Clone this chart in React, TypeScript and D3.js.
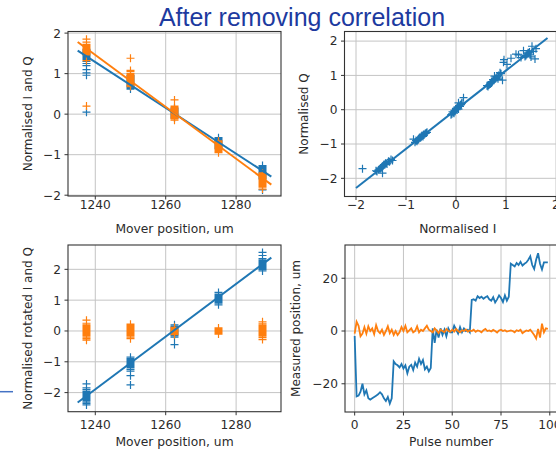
import React from 'react';
import * as d3 from 'd3';

// mover positions (um), 20 pulses per position
const moverPos = [1237.5, 1250, 1262.5, 1275, 1287.5];

// normalised I and Q per pulse, grouped by mover position
const normI = [
  [0.05, 1.42, 1.55, 1.38, 1.48, 1.6, 1.3, 1.45, 1.2, 1.52, 1.1, 1.4, 1.35, 0.96, 1.5, 1.25, 1.44, 1.58, 1.02, 1.47],
  [0.72, 0.68, 0.85, 0.78, 0.62, 0.9, 0.75, 0.7, 0.82, 0.95, 0.66, 0.74, 0.8, 0.88, 0.64, 0.93, 0.71, 0.77, 0.84, 0.69],
  [-0.05, 0.02, 0.1, -0.08, 0.05, 0.12, -0.02, 0.0, 0.08, -0.1, 0.15, 0.03, -0.04, 0.06, 0.11, -0.07, 0.01, 0.09, -0.03, 0.04],
  [-0.7, -0.65, -0.75, -0.6, -0.8, -0.68, -0.72, -0.58, -0.85, -0.66, -0.74, -0.62, -0.78, -0.7, -0.64, -0.76, -0.69, -0.82, -0.67, -0.73],
  [-1.45, -1.4, -1.5, -1.35, -1.55, -1.42, -1.48, -1.3, -1.6, -1.38, -1.46, -1.52, -1.87, -1.44, -1.33, -1.58, -1.41, -1.49, -1.27, -1.47],
];
const normQ = [
  [0.2, 1.62, 1.7, 1.55, 1.6, 1.78, 1.52, 1.65, 1.62, 1.85, 1.5, 1.58, 1.72, 1.46, 1.54, 1.6, 1.66, 1.48, 1.32, 1.68],
  [0.8, 0.75, 1.0, 0.9, 0.7, 1.05, 0.85, 0.78, 0.95, 1.38, 0.72, 0.88, 0.92, 1.08, 0.68, 0.86, 0.82, 0.98, 0.9, 0.76],
  [-0.08, 0.05, 0.15, -0.12, 0.02, 0.2, -0.05, 0.0, 0.1, -0.15, 0.35, 0.08, -0.1, 0.12, 0.18, -0.06, 0.03, 0.14, -0.02, 0.06],
  [-0.8, -0.72, -0.85, -0.68, -0.9, -0.75, -0.82, -0.66, -0.86, -0.78, -0.84, -0.7, -0.92, -0.79, -0.74, -0.88, -0.77, -0.95, -0.76, -0.81],
  [-1.62, -1.55, -1.7, -1.5, -1.75, -1.6, -1.66, -1.45, -1.78, -1.58, -1.64, -1.72, -1.72, -1.6, -1.52, -1.8, -1.57, -1.68, -1.48, -1.85],
];

// straight-line fits
const fitX = [1235, 1290];
const fitI = [1.57, -1.54];
const fitQ = [1.78, -1.74];
const corrFitI = [-2.0, 1.83];
const corrFitQ = [-2.28, 2.09];
const rotFitY = [-2.32, 2.38];

// rotated I and Q per pulse, grouped by mover position
const rotI = [
  [-2.05, -2.1, -1.95, -2.2, -2.15, -1.9, -2.3, -2.0, -2.25, -1.72, -2.12, -2.08, -1.85, -2.35, -2.02, -2.18, -1.98, -2.4, -2.22, -2.06],
  [-1.0, -1.05, -0.9, -1.15, -1.1, -0.85, -1.2, -0.95, -1.3, -1.75, -1.08, -1.02, -0.92, -1.25, -0.98, -1.12, -1.45, -1.0, -1.18, -1.06],
  [0.05, -0.05, 0.1, -0.1, 0.0, 0.15, -0.15, 0.02, -0.2, 0.08, -0.44, 0.2, -0.02, 0.04, -0.08, 0.12, -0.12, 0.06, -0.04, 0.0],
  [1.05, 1.0, 1.1, 0.95, 1.15, 0.9, 1.2, 1.02, 0.85, 1.08, 1.12, 0.98, 1.25, 1.04, 0.92, 1.06, 1.18, 0.96, 1.0, 1.1],
  [2.15, 2.1, 2.2, 2.05, 2.25, 2.0, 2.3, 2.12, 2.45, 2.08, 2.18, 2.55, 1.95, 2.22, 2.14, 2.35, 2.06, 2.28, 2.02, 2.16],
];
const rotQ = [
  [0.0, 0.1, -0.1, 0.2, -0.15, 0.05, -0.05, 0.35, -0.25, 0.15, -0.02, 0.08, -0.3, 0.25, -0.08, 0.12, -0.2, 0.02, 0.18, -0.12],
  [0.0, 0.05, -0.05, 0.1, -0.1, 0.15, -0.15, 0.22, -0.2, 0.02, -0.25, 0.08, -0.02, 0.12, -0.08, 0.04, -0.12, 0.06, -0.04, 0.18],
  [0.0, 0.05, -0.05, 0.1, -0.1, 0.02, -0.02, 0.08, -0.08, 0.04, -0.04, 0.12, -0.12, 0.06, -0.06, 0.03, -0.03, 0.09, -0.09, 0.01],
  [0.0, 0.04, -0.04, 0.08, -0.08, 0.02, -0.02, 0.06, -0.06, 0.1, -0.1, 0.03, -0.03, 0.05, -0.05, 0.07, -0.07, 0.01, -0.01, 0.09],
  [0.0, 0.1, -0.1, 0.2, -0.2, 0.05, -0.05, 0.3, -0.28, 0.15, -0.15, 0.25, -0.12, 0.08, -0.08, 0.18, -0.22, 0.02, 0.12, -0.02],
];

// measured position per pulse (um)
const measuredPos = [
  -1.9, -24.8, -24.5, -23.0, -20.0, -24.0, -22.5, -25.5, -26.0, -25.5,
  -25.0, -24.5, -24.0, -23.2, -24.0, -25.5, -26.5, -25.0, -27.5, -25.5,
  -11.5, -12.5, -13.0, -13.8, -12.5, -14.2, -13.0, -16.0, -13.5, -12.8,
  -14.8, -12.0, -13.5, -10.5, -12.5, -11.0, -14.5, -13.5, -15.3, -14.0,
  1.0, -4.5, 0.5, -2.5, 1.0, -1.5, 0.5, -2.0, 1.0, -0.5,
  -0.5, 2.0, 0.5, -1.0, 1.5, -0.5, 1.0, 0.0, 0.5, -0.5,
  11.8, 12.0, 11.5, 13.2, 12.5, 13.0, 12.2, 12.8, 13.2, 12.0,
  11.5, 12.8, 10.8, 12.0, 13.5, 12.5, 11.0, 13.5, 11.5, 13.0,
  25.5, 25.0, 24.5, 25.8, 25.0, 26.2, 24.8, 25.5, 26.0, 27.0,
  28.3, 25.0, 23.5, 27.0, 29.5, 25.5, 23.3, 26.0, 26.0, 26.0,
];
const measuredPerp = [
  -1.0, 3.5, 2.0, -2.0, -1.0, 1.5, -1.0, 1.8, 0.0, 1.0,
  -1.2, 2.2, 0.0, -0.8, 0.5, -1.5, 0.0, 1.8, -0.8, 0.5,
  -1.5, 0.0, -1.5, -0.5, 1.5, 0.0, 2.0, -0.5, 0.2, 1.0,
  -0.5, 0.0, 1.8, -0.5, 0.5, 0.0, 1.0, 2.0, 0.5, 0.0,
  -0.5, 1.0, 0.2, -0.8, 0.5, 0.0, -0.5, 0.8, 0.0, -0.3,
  0.5, -0.2, 0.8, 0.0, -0.5, 0.3, 0.0, 0.6, -0.2, 0.2,
  0.0, 0.5, -0.3, 0.2, 0.0, -0.5, 0.3, 0.8, 0.0, 0.2,
  -0.2, 0.4, 0.0, -0.6, 0.2, 0.5, 0.0, 0.3, -0.2, 0.0,
  0.2, 0.0, -0.5, 0.3, 0.0, 0.5, -0.8, -0.3, 0.2, 0.0,
  0.5, -0.5, -1.5, -2.8, 0.8, -2.5, 2.8, -0.5, 1.0, 0.8,
];

const moverTicks = [1240, 1260, 1280];
const unitTicks = [-2, -1, 0, 1, 2];
const pulseTicks = [0, 25, 50, 75, 100];
const posTicks = [-20, 0, 20];

const BLUE = '#1f77b4';
const ORANGE = '#ff7f0e';
const FONT = 'DejaVu Sans, sans-serif';
const INK = '#2b2b2b';

const fmt = (v: number) => (v < 0 ? '\u2212' + Math.abs(v) : String(v));

const plus = (cx: number, cy: number, r = 4) =>
  `M${cx - r},${cy}H${cx + r}M${cx},${cy - r}V${cy + r}`;

type PanelProps = {
  id: string;
  x: d3.ScaleLinear<number, number>;
  y: d3.ScaleLinear<number, number>;
  xTicks: number[];
  yTicks: number[];
  xLabel: string;
  yLabel: string;
  xLabelY: number;
  yLabelX: number;
  tickLabelY: number;
  children?: React.ReactNode;
};

function Panel({ id, x, y, xTicks, yTicks, xLabel, yLabel, xLabelY, yLabelX, tickLabelY, children }: PanelProps) {
  const [left, right] = x.range();
  const [bottom, top] = y.range();
  const midX = (left + right) / 2;
  const midY = (top + bottom) / 2;
  return (
    <g>
      <clipPath id={id}>
        <rect x={left} y={top} width={right - left} height={bottom - top} />
      </clipPath>
      {xTicks.map((t) => (
        <line key={'gx' + t} x1={x(t)} x2={x(t)} y1={top} y2={bottom} stroke="#c4c4c4" strokeWidth={1} />
      ))}
      {yTicks.map((t) => (
        <line key={'gy' + t} x1={left} x2={right} y1={y(t)} y2={y(t)} stroke="#c4c4c4" strokeWidth={1} />
      ))}
      <g clipPath={`url(#${id})`}>{children}</g>
      <rect x={left} y={top} width={right - left} height={bottom - top} fill="none" stroke="#333" strokeWidth={1.1} />
      {xTicks.map((t) => (
        <g key={'tx' + t}>
          <line x1={x(t)} x2={x(t)} y1={bottom} y2={bottom + 3.5} stroke="#333" />
          <text x={x(t)} y={tickLabelY} textAnchor="middle" fontSize={12.2} fill={INK} fontFamily={FONT}>
            {fmt(t)}
          </text>
        </g>
      ))}
      {yTicks.map((t) => (
        <g key={'ty' + t}>
          <line x1={left - 3.5} x2={left} y1={y(t)} y2={y(t)} stroke="#333" />
          <text x={left - 7} y={y(t)} dy="0.36em" textAnchor="end" fontSize={12.2} fill={INK} fontFamily={FONT}>
            {fmt(t)}
          </text>
        </g>
      ))}
      <text x={midX} y={xLabelY} textAnchor="middle" fontSize={12.3} fill={INK} fontFamily={FONT}>
        {xLabel}
      </text>
      <text
        transform={`translate(${yLabelX},${midY}) rotate(-90)`}
        dy="0.36em"
        textAnchor="middle"
        fontSize={12}
        fill={INK}
        fontFamily={FONT}
      >
        {yLabel}
      </text>
    </g>
  );
}

export default function App() {
  const width = 556;
  const height = 450;

  const xMoverTop = d3.scaleLinear().domain([1232.25, 1292.75]).range([68, 281]);
  const yIQ = d3.scaleLinear().domain([-2.02, 2.04]).range([196, 31.5]);

  const xCorr = d3.scaleLinear().domain([-2.23, 2.3]).range([344.5, 571]);
  const yCorr = d3.scaleLinear().domain([-2.53, 2.28]).range([196.5, 31.5]);

  const xMoverBot = d3.scaleLinear().domain([1232.25, 1292.75]).range([68, 281]);
  const yRot = d3.scaleLinear().domain([-2.62, 2.79]).range([411.7, 245]);

  const xPulse = d3.scaleLinear().domain([-4.95, 103.95]).range([345, 557.5]);
  const yPos = d3.scaleLinear().domain([-30.7, 32.6]).range([412, 245]);

  const fitLine = (xs: number[], ys: number[], sx: d3.ScaleLinear<number, number>, sy: d3.ScaleLinear<number, number>) =>
    d3
      .line<number>()
      .x((_, i) => sx(xs[i]))
      .y((d) => sy(d))(ys) || '';

  const scatter = (groups: number[][], sy: d3.ScaleLinear<number, number>, sx: d3.ScaleLinear<number, number>) =>
    groups
      .map((vals, gi) => vals.map((v) => plus(sx(moverPos[gi]), sy(v))).join(''))
      .join('');

  const corrPath = normI
    .map((vals, gi) => vals.map((v, j) => plus(xCorr(v), yCorr(normQ[gi][j]))).join(''))
    .join('');

  const pulseLine = d3
    .line<number>()
    .x((_, i) => xPulse(i))
    .y((d) => yPos(d));

  return (
    <svg width={width} height={height} style={{ position: 'absolute', left: 0, top: 0, background: '#fff' }}>
      <rect width={width} height={height} fill="#fff" />
      <text x={302} y={26} textAnchor="middle" fontSize={25} fill="#1d3a9f" fontFamily="Liberation Sans, Arial, sans-serif">
        After removing correlation
      </text>
      <line x1={0} x2={13} y1={391.7} y2={391.7} stroke="#4472c4" strokeWidth={1.5} />

      <Panel
        id="c1"
        x={xMoverTop}
        y={yIQ}
        xTicks={moverTicks}
        yTicks={unitTicks}
        xLabel="Mover position, um"
        yLabel="Normalised I and Q"
        xLabelY={233}
        yLabelX={28}
        tickLabelY={208.5}
      >
        <path d={scatter(normI, yIQ, xMoverTop)} stroke={BLUE} strokeWidth={1.2} fill="none" />
        <path d={scatter(normQ, yIQ, xMoverTop)} stroke={ORANGE} strokeWidth={1.2} fill="none" />
        <path d={fitLine(fitX, fitI, xMoverTop, yIQ)} stroke={BLUE} strokeWidth={2} fill="none" />
        <path d={fitLine(fitX, fitQ, xMoverTop, yIQ)} stroke={ORANGE} strokeWidth={2} fill="none" />
      </Panel>

      <Panel
        id="c2"
        x={xCorr}
        y={yCorr}
        xTicks={unitTicks}
        yTicks={unitTicks}
        xLabel="Normalised I"
        yLabel="Normalised Q"
        xLabelY={233}
        yLabelX={304}
        tickLabelY={208.5}
      >
        <path d={corrPath} stroke={BLUE} strokeWidth={1.2} fill="none" />
        <path d={fitLine(corrFitI, corrFitQ, xCorr, yCorr)} stroke={BLUE} strokeWidth={2} fill="none" />
      </Panel>

      <Panel
        id="c3"
        x={xMoverBot}
        y={yRot}
        xTicks={moverTicks}
        yTicks={unitTicks}
        xLabel="Mover position, um"
        yLabel="Normalised rotated I and Q"
        xLabelY={446}
        yLabelX={28}
        tickLabelY={429}
      >
        <path d={scatter(rotI, yRot, xMoverBot)} stroke={BLUE} strokeWidth={1.2} fill="none" />
        <path d={scatter(rotQ, yRot, xMoverBot)} stroke={ORANGE} strokeWidth={1.2} fill="none" />
        <path d={fitLine(fitX, rotFitY, xMoverBot, yRot)} stroke={BLUE} strokeWidth={2} fill="none" />
      </Panel>

      <Panel
        id="c4"
        x={xPulse}
        y={yPos}
        xTicks={pulseTicks}
        yTicks={posTicks}
        xLabel="Pulse number"
        yLabel="Measured position, um"
        xLabelY={446}
        yLabelX={296}
        tickLabelY={429}
      >
        <path d={pulseLine(measuredPos) || ''} stroke={BLUE} strokeWidth={1.8} fill="none" />
        <path d={pulseLine(measuredPerp) || ''} stroke={ORANGE} strokeWidth={1.8} fill="none" />
      </Panel>
    </svg>
  );
}
